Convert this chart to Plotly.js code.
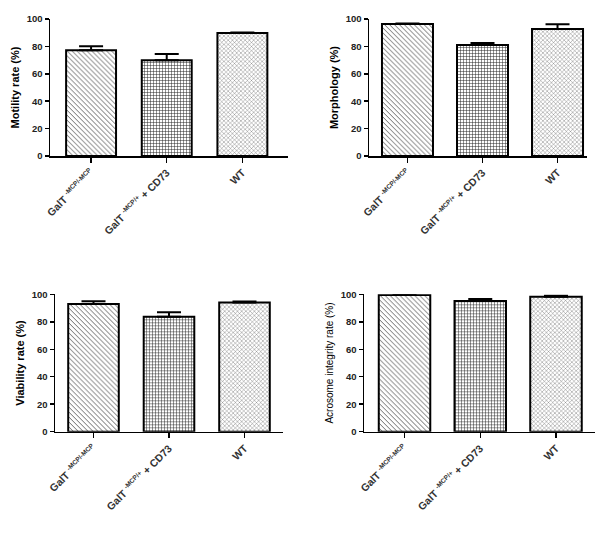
<!DOCTYPE html>
<html><head><meta charset="utf-8">
<script src="https://cdn.plot.ly/plotly-3.0.1.min.js"></script>
<style>html,body{margin:0;padding:0;background:#fff}#chart{width:604px;height:545px}</style>
</head><body><div id="chart"></div>
<script>
const categories = ['GalT <sup><span style="font-size:6.5px">-MCP/-MCP</span></sup>', 'GalT <sup><span style="font-size:6.5px">-MCP/+</span></sup> + CD73', 'WT'];
const motility = [77.2, 69.9, 89.8];
const motilityErr = [3.0, 4.6, 0.3];
const morphology = [96.4, 81.0, 92.7];
const morphologyErr = [0.4, 1.5, 3.4];
const viability = [92.9, 83.7, 94.1];
const viabilityErr = [2.0, 3.2, 0.6];
const acrosome = [99.5, 95.1, 98.3];
const acrosomeErr = [0.2, 1.4, 0.7];
const yTitles = ['Motility rate (%)', 'Morphology (%)', 'Viability rate (%)', 'Acrosome integrity rate (%)'];

const F = 'Liberation Sans, Arial, sans-serif';
const W = 604, H = 545;
const panels = [
  {vals: motility, err: motilityErr, x0: 50, x1: 288, yb: 156, yt: 19, r: [-0.543, 2.603], bw: 0.66, bold: true},
  {vals: morphology, err: morphologyErr, x0: 369, x1: 587, yb: 156, yt: 19, r: [-0.513, 2.393], bw: 0.68, bold: true},
  {vals: viability, err: viabilityErr, x0: 55, x1: 283, yb: 431.7, yt: 294.3, r: [-0.51, 2.51], bw: 0.67, bold: true},
  {vals: acrosome, err: acrosomeErr, x0: 364, x1: 595, yb: 431.7, yt: 294.3, r: [-0.535, 2.515], bw: 0.68, bold: false}
];
const data = [];
const layout = {
  width: W, height: H, margin: {l: 0, r: 0, t: 0, b: 0},
  paper_bgcolor: '#fff', plot_bgcolor: '#fff', showlegend: false,
  font: {family: F, color: '#000', size: 10}
};
panels.forEach((p, i) => {
  const n = i + 1;
  const xa = 'x' + (n === 1 ? '' : n), ya = 'y' + (n === 1 ? '' : n);
  data.push({
    type: 'bar', x: [0, 1, 2], y: p.vals, xaxis: xa, yaxis: ya, width: p.bw,
    marker: {
      color: '#fff',
      line: {color: '#000', width: 2},
      pattern: {shape: ['\\', '+', 'x'], size: [3.5, 3, 3], solidity: [0.25, 0.3, 0.25], fgcolor: ['#555', '#222', '#666'], bgcolor: '#fff', fillmode: 'replace'}
    },
    error_y: {type: 'data', array: p.err, arrayminus: [0, 0, 0], symmetric: false, color: '#000', thickness: 2, width: 12},
    hoverinfo: 'none'
  });
  const xk = 'xaxis' + (n === 1 ? '' : n), yk = 'yaxis' + (n === 1 ? '' : n);
  layout[xk] = {
    domain: [p.x0 / W, p.x1 / W], anchor: ya, range: p.r,
    tickmode: 'array', tickvals: [0, 1, 2], ticktext: categories,
    tickangle: -45, ticks: 'outside', ticklen: 5, tickwidth: 1.5, tickcolor: '#000',
    showline: true, linecolor: '#000', linewidth: 1.5, showgrid: false, zeroline: false,
    tickfont: {family: F, size: 10.5, color: '#333', weight: 'bold'}, fixedrange: true
  };
  layout[yk] = {
    domain: [(H - p.yb) / H, (H - p.yt) / H], anchor: xa, range: [0, 100],
    tickmode: 'linear', tick0: 0, dtick: 20, ticks: 'outside', ticklen: 4, tickwidth: 1.5, tickcolor: '#000',
    showline: true, linecolor: '#000', linewidth: 1.5, showgrid: false, zeroline: false,
    tickfont: {family: F, size: 9.5, color: '#222', weight: 'bold'},
    title: {text: yTitles[i], font: {family: F, size: p.bold ? 11 : 10, color: '#000', weight: p.bold ? 'bold' : 'normal'}, standoff: 5},
    fixedrange: true
  };
});
Plotly.newPlot('chart', data, layout, {staticPlot: true});
</script></body></html>
